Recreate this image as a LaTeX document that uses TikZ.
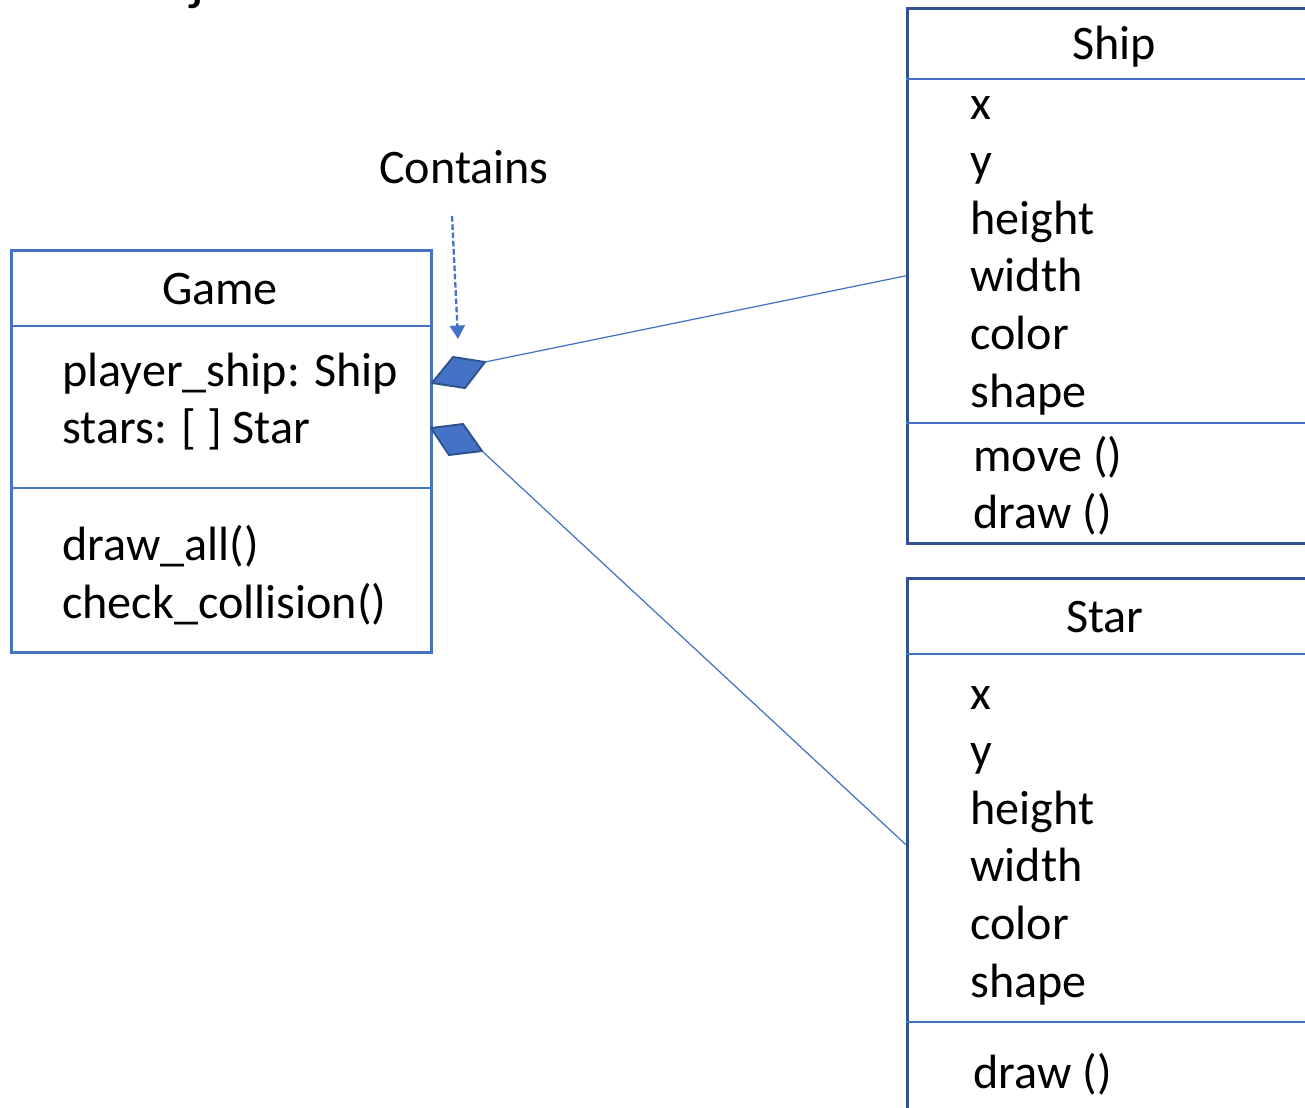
\documentclass[tikz,border=0pt]{standalone}
\usepackage{fontspec}
\setmainfont{Carlito}
\usetikzlibrary{calc, positioning}
\usetikzlibrary{arrows.meta}
\definecolor{umlblue}{HTML}{4472C4}
\definecolor{umldark}{HTML}{2F528F}
\def\bw{8.4cm}
\tikzset{
    classbox/.style = {
        draw=umldark, rectangle, anchor=north west, inner sep=0pt, minimum width=\bw, line width=1.5pt
    },
    gamebox/.style = {
        classbox, draw=umlblue, line width=1.6pt
    },
    divider/.style = {draw=umlblue, line width=0.9pt},
    member/.style = {anchor=base west, inner sep=0pt, font=\fontsize{27.4}{32}\selectfont},
    classname/.style = {member, anchor=base},
    aggregation/.style = {fill=umlblue, draw=umldark, line width=1.1pt, line join=round},
    assoc/.style = {draw=umlblue, line width=0.7pt},
    note/.style = {draw=umlblue, line width=1.3pt, dash pattern=on 3.2pt off 1.5pt,
        -{Triangle[width=0.3cm,length=0.27cm]}}
}
\begin{document}
\begin{tikzpicture}[x=0.02cm, y=-0.02cm]
    \useasboundingbox (0,0) rectangle (1305,1107);
    % heading, cut off at the top
    \node[member, font=\fontsize{34}{40}\selectfont] (heading) at (190,-2) {j};

    % Game class
    \node[gamebox, minimum height=8.04cm] (game) at (10,249) {};
    \draw[divider] ($(game.north west)+(0,77)$) -- ($(game.north east)+(0,77)$);
    \draw[divider] ($(game.north west)+(0,239)$) -- ($(game.north east)+(0,239)$);
    \node[classname] (game-name) at (220,304) {Game};
    \node[member] (game-a1) at (62,386) {player\_ship: Ship};
    \node[member] (game-a2) at (62,443) {stars: [ ] Star};
    \node[member] (game-m1) at (62,560) {draw\_all()};
    \node[member] (game-m2) at (62,618) {check\_collision()};

    % Ship class
    \node[classbox, minimum height=10.7cm] (ship) at (906,7) {};
    \draw[divider] ($(ship.north west)+(0,72)$) -- ($(ship.north east)+(0,72)$);
    \draw[divider] ($(ship.north west)+(0,416)$) -- ($(ship.north east)+(0,416)$);
    \node[classname] (ship-name) at (1114,59) {Ship};
    \foreach \attr [count=\i from 0] in {x, y, height, width, color, shape}
        \node[member] (ship-a\i) at (970,{119+57.6*\i}) {\attr};
    \node[member] (ship-m1) at (973,471) {move ()};
    \node[member] (ship-m2) at (973,528) {draw ()};

    % Star class
    \node[classbox, minimum height=10.66cm] (star) at (906,577) {};
    \draw[divider] ($(star.north west)+(0,77)$) -- ($(star.north east)+(0,77)$);
    \draw[divider] ($(star.north west)+(0,445)$) -- ($(star.north east)+(0,445)$);
    \node[classname] (star-name) at (1105,632) {Star};
    \foreach \attr [count=\i from 0] in {x, y, height, width, color, shape}
        \node[member] (star-a\i) at (970,{709+57.6*\i}) {\attr};
    \node[member] (star-m1) at (973,1088) {draw ()};

    % aggregation diamonds
    \coordinate (d1l) at (432,383); \coordinate (d1t) at (453,357);
    \coordinate (d1r) at (485,362); \coordinate (d1b) at (465,388);
    \coordinate (d2l) at (431,428); \coordinate (d2t) at (463,424);
    \coordinate (d2r) at (482,451); \coordinate (d2b) at (449,455);
    \draw[assoc] (d1r) -- (ship.west);
    \draw[assoc] (d2r) -- (star.west);
    \filldraw[aggregation] (d1l) -- (d1t) -- (d1r) -- (d1b) -- cycle;
    \filldraw[aggregation] (d2l) -- (d2t) -- (d2r) -- (d2b) -- cycle;

    % label with dashed pointer
    \node[member, anchor=base] (contains) at (464,183) {Contains};
    \coordinate (pointer) at (452,216);
    \coordinate (pointed) at (458,339);
    \draw[note] (pointer) -- (pointed);
\end{tikzpicture}
\end{document}
